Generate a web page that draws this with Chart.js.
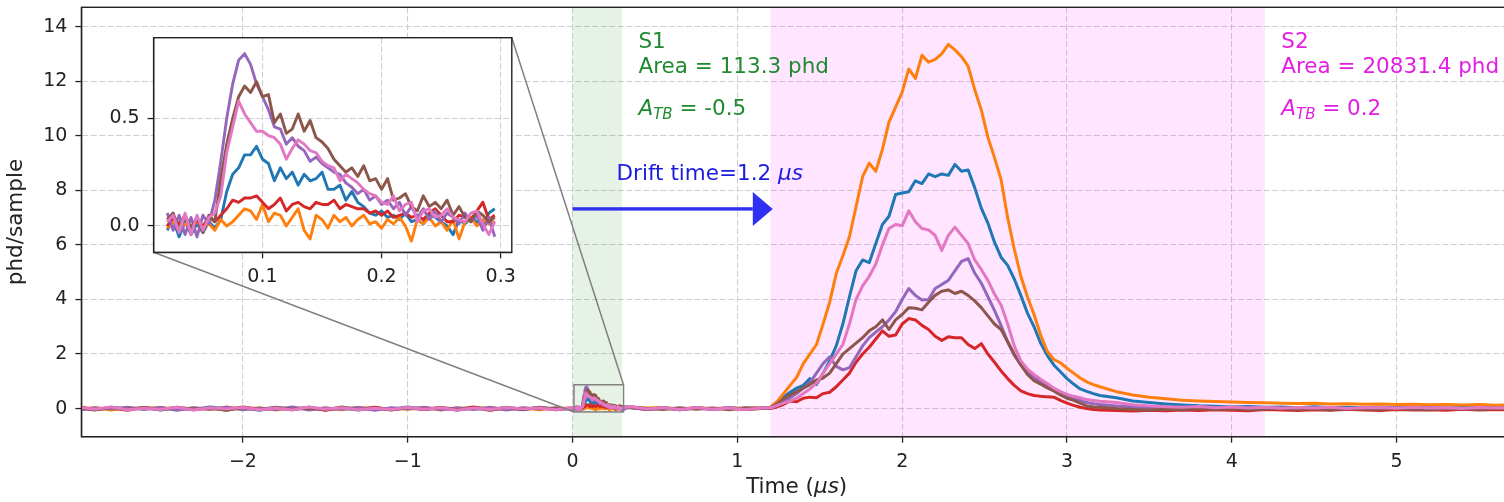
<!DOCTYPE html>
<html><head><meta charset="utf-8">
<script src="https://cdn.jsdelivr.net/npm/chart.js@4/dist/chart.umd.min.js"></script>
<style>
html,body{margin:0;padding:0;background:#fff;overflow:hidden;}
#wrap{position:relative;width:1504px;height:502px;overflow:hidden;}
#main{position:absolute;left:0;top:0;}
#inset{position:absolute;left:80px;top:28px;}
</style></head><body>
<div id="wrap"><canvas id="main" width="1520" height="502"></canvas><canvas id="inset" width="450" height="262"></canvas></div>
<script>
// ---------- DATA ----------
const xTicks = [-2,-1,0,1,2,3,4,5];
const yTicks = [0,2,4,6,8,10,12,14];
const insetXTicks = [0.1,0.2,0.3];
const insetYTicks = [0.0,0.5];

const tPre = [-2.98,-2.9,-2.8,-2.7,-2.6,-2.5,-2.4,-2.3,-2.2,-2.1,-2.0,-1.9,-1.8,-1.7,-1.6,-1.5,-1.4,-1.3,-1.2,-1.1,-1.0,-0.9,-0.8,-0.7,-0.6,-0.5,-0.4,-0.3,-0.2,-0.1,0.0];
const tS1 = [0.020,0.025,0.030,0.035,0.040,0.045,0.050,0.055,0.060,0.065,0.070,0.075,0.080,0.085,0.090,0.095,0.100,0.105,0.110,0.115,0.120,0.125,0.130,0.135,0.140,0.145,0.150,0.155,0.160,0.165,0.170,0.175,0.180,0.185,0.190,0.195,0.200,0.205,0.210,0.215,0.220,0.225,0.230,0.235,0.240,0.245,0.250,0.255,0.260,0.265,0.270,0.275,0.280,0.285,0.290,0.295];
const tMid = [0.35,0.45,0.55,0.65,0.75,0.85,0.95,1.05,1.15];
const tS2 = [1.20,1.24,1.28,1.32,1.36,1.40,1.44,1.48,1.52,1.56,1.60,1.64,1.68,1.72,1.76,1.80,1.84,1.88,1.92,1.96,2.00,2.04,2.08,2.12,2.16,2.20,2.24,2.28,2.32,2.36,2.40,2.44,2.48,2.52,2.56,2.60,2.64,2.68,2.72,2.76,2.80,2.84,2.88,2.92,2.96,3.00,3.04,3.08,3.12,3.16,3.20];
const tTail = [3.3,3.4,3.5,3.6,3.7,3.8,3.9,4.0,4.1,4.2,4.3,4.4,4.5,4.6,4.7,4.8,4.9,5.0,5.1,5.2,5.3,5.4,5.5,5.6,5.7];

// blue
const bluePre = [0.03,-0.04,0.05,-0.02,0.04,-0.05,0.02,-0.03,0.06,-0.01,0.03,-0.06,0.04,-0.02,0.05,-0.04,0.01,-0.05,0.03,-0.02,0.06,-0.03,0.02,-0.05,0.04,-0.01,0.03,-0.04,0.05,-0.02,0.01];
const blueS1 = [-0.02,0.03,-0.05,0.02,-0.04,0.01,-0.03,0.02,-0.01,0.03,0.16,0.24,0.27,0.33,0.33,0.37,0.31,0.29,0.21,0.27,0.22,0.25,0.19,0.24,0.21,0.22,0.25,0.17,0.17,0.19,0.12,0.16,0.11,0.09,0.06,0.05,0.07,0.04,0.05,0.03,0.06,0.02,0.03,0.01,0.05,0.04,0.02,0.0,-0.04,0.03,0.01,0.04,0.02,0.0,0.06,0.08];
const blueMid = [0.03,-0.02,0.04,-0.03,0.02,-0.01,0.03,-0.02,0.01];
const blueS2 = [0.02,0.18,0.42,0.6,0.75,0.85,1.1,0.88,1.3,1.75,2.3,3.1,4.1,5.05,5.45,5.35,6.05,6.75,7.05,7.85,7.9,7.95,8.35,8.25,8.6,8.5,8.6,8.55,8.95,8.7,8.75,8.1,7.35,6.8,6.1,5.55,5.25,4.75,4.15,3.5,3.0,2.4,1.95,1.6,1.35,1.1,0.9,0.72,0.63,0.55,0.48];
const blueTail = [0.4,0.28,0.22,0.17,0.13,0.1,0.09,0.06,0.08,0.05,0.06,0.03,0.07,0.04,0.05,0.02,0.06,0.03,0.04,0.05,0.02,0.04,0.03,0.05,0.03];
// orange
const orangePre = [-0.02,0.04,-0.05,0.03,-0.01,0.05,-0.04,0.02,-0.03,0.06,-0.02,0.03,-0.05,0.04,-0.01,0.02,-0.04,0.05,-0.03,0.01,-0.02,0.04,-0.05,0.03,-0.01,0.05,-0.03,0.02,-0.04,0.03,0.0];
const orangeS1 = [-0.01,0.02,-0.02,0.01,0.0,0.02,-0.01,0.01,-0.02,0.03,0.0,0.02,0.05,0.08,0.07,0.03,0.10,0.02,0.06,0.05,0.0,0.04,0.08,-0.02,-0.06,0.05,0.03,-0.01,0.05,0.02,0.04,0.0,0.03,0.05,0.01,0.02,-0.01,0.03,0.01,0.04,0.0,-0.07,0.03,0.01,0.04,0.0,0.02,-0.02,0.03,-0.06,0.02,0.04,0.0,0.03,0.01,0.02];
const orangeMid = [0.05,0.02,0.04,-0.01,0.03,0.0,0.02,0.01,0.03];
const orangeS2 = [0.05,0.25,0.55,0.85,1.15,1.65,2.0,2.35,3.1,3.9,4.95,5.6,6.3,7.4,8.5,9.0,8.7,9.5,10.5,11.05,11.6,12.45,12.1,12.95,12.7,12.8,13.0,13.35,13.15,12.9,12.55,11.7,10.95,9.95,9.2,8.4,7.0,5.85,4.85,4.1,3.45,2.7,2.1,1.8,1.68,1.48,1.3,1.12,0.98,0.88,0.8];
const orangeTail = [0.62,0.5,0.42,0.36,0.31,0.28,0.26,0.24,0.22,0.21,0.2,0.19,0.2,0.17,0.18,0.16,0.17,0.15,0.16,0.14,0.15,0.13,0.15,0.12,0.14];
// red
const redPre = [0.05,-0.03,0.02,-0.06,0.04,-0.01,0.03,-0.04,0.02,-0.05,0.06,-0.02,0.01,-0.03,0.04,-0.06,0.03,-0.01,0.05,-0.04,0.02,-0.03,0.04,-0.02,0.06,-0.05,0.01,-0.02,0.03,-0.04,0.02];
const redS1 = [0.0,0.04,0.01,0.05,-0.02,0.03,0.0,0.04,0.02,0.05,0.08,0.12,0.11,0.13,0.13,0.14,0.11,0.08,0.10,0.13,0.07,0.10,0.11,0.09,0.08,0.11,0.10,0.10,0.12,0.08,0.10,0.09,0.08,0.08,0.06,0.07,0.05,0.07,0.04,0.05,0.06,0.04,0.05,0.03,0.06,0.08,0.05,0.02,0.02,0.05,0.04,0.03,0.07,0.11,0.03,0.05];
const redMid = [0.04,-0.03,0.02,-0.04,0.03,-0.02,0.01,-0.03,0.0];
const redS2 = [0.0,0.06,0.15,0.28,0.25,0.38,0.42,0.4,0.55,0.6,0.8,1.05,1.3,1.7,2.0,2.25,2.55,2.85,2.65,2.7,3.1,3.3,3.25,3.05,2.9,2.65,2.5,2.63,2.6,2.6,2.35,2.2,2.38,2.0,1.7,1.38,1.1,0.85,0.65,0.55,0.48,0.45,0.43,0.42,0.3,0.2,0.12,0.05,0.0,-0.03,-0.05];
const redTail = [-0.07,-0.09,-0.06,-0.08,-0.05,-0.07,-0.04,-0.06,-0.08,-0.03,-0.05,-0.07,-0.04,-0.06,-0.02,-0.05,-0.07,-0.03,-0.05,-0.04,-0.06,-0.02,-0.05,-0.03,-0.04];
// purple
const purplePre = [-0.04,0.02,-0.01,0.05,-0.03,0.04,-0.06,0.03,-0.02,0.05,-0.04,0.01,-0.03,0.06,-0.05,0.02,-0.02,0.04,-0.06,0.03,-0.01,0.05,-0.04,0.02,-0.03,0.04,-0.05,0.03,-0.01,0.02,-0.03];
const purpleS1 = [0.06,-0.02,0.05,-0.04,0.04,-0.05,0.05,0.01,0.12,0.30,0.50,0.66,0.77,0.80,0.75,0.66,0.60,0.54,0.46,0.45,0.38,0.41,0.37,0.35,0.30,0.32,0.29,0.27,0.25,0.24,0.20,0.18,0.15,0.17,0.12,0.14,0.10,0.12,0.08,0.11,0.05,0.09,0.04,0.08,0.03,0.07,0.02,0.06,0.04,0.01,0.06,0.02,0.05,-0.02,0.04,-0.05];
const purpleMid = [0.06,-0.02,0.03,-0.04,0.02,-0.03,0.04,-0.01,0.02];
const purpleS2 = [0.02,0.1,0.25,0.4,0.55,0.75,0.95,1.3,1.65,1.9,1.55,1.42,1.5,1.9,2.3,2.6,2.8,3.0,3.25,3.55,4.0,4.4,4.15,3.98,4.0,4.4,4.55,4.7,5.05,5.4,5.5,4.97,4.6,4.1,3.6,3.05,2.45,1.95,1.6,1.35,1.15,0.97,0.82,0.67,0.55,0.45,0.38,0.3,0.22,0.18,0.15];
const purpleTail = [0.1,0.06,0.04,0.02,0.05,0.01,0.03,-0.01,0.04,0.0,0.02,-0.02,0.03,0.01,-0.01,0.03,0.0,0.02,-0.02,0.04,0.01,-0.01,0.02,0.0,0.01];
// brown
const brownPre = [0.01,-0.05,0.04,-0.02,0.03,-0.04,0.05,-0.01,0.02,-0.06,0.03,-0.03,0.05,-0.02,0.01,-0.04,0.06,-0.03,0.02,-0.05,0.04,-0.01,0.03,-0.04,0.02,-0.06,0.05,-0.02,0.04,-0.01,0.02];
const brownS1 = [0.03,0.06,-0.02,0.05,-0.01,0.04,-0.03,0.05,0.02,0.22,0.38,0.50,0.60,0.65,0.62,0.67,0.60,0.61,0.48,0.52,0.43,0.45,0.52,0.44,0.49,0.41,0.39,0.36,0.31,0.28,0.25,0.27,0.23,0.28,0.21,0.22,0.17,0.22,0.12,0.13,0.15,0.09,0.07,0.14,0.09,0.11,0.08,0.12,0.05,0.09,0.04,0.02,0.07,0.05,0.02,0.04];
const brownMid = [0.07,0.0,-0.03,0.03,-0.02,0.02,-0.04,0.03,0.01];
const brownS2 = [0.03,0.18,0.35,0.5,0.62,0.75,0.88,1.05,1.12,1.3,1.65,2.0,2.2,2.4,2.6,2.85,3.0,3.25,2.9,3.25,3.45,3.7,3.68,3.62,3.9,4.15,4.3,4.35,4.22,4.3,4.15,3.95,3.7,3.4,3.1,2.9,2.45,2.0,1.6,1.25,1.02,0.9,0.76,0.65,0.5,0.38,0.3,0.2,0.1,0.06,0.05];
const brownTail = [0.0,-0.03,-0.05,-0.02,-0.04,-0.01,-0.03,0.0,-0.04,-0.02,0.01,-0.03,-0.01,-0.04,0.0,-0.02,-0.03,0.01,-0.02,-0.04,0.0,-0.01,-0.03,0.0,-0.02];
// pink
const pinkPre = [0.04,-0.02,0.06,-0.04,0.01,-0.03,0.05,-0.05,0.03,-0.01,0.04,-0.04,0.02,-0.05,0.06,-0.02,0.03,-0.04,0.01,-0.03,0.05,-0.02,0.03,-0.06,0.02,-0.03,0.04,-0.01,0.02,-0.04,0.03];
const pinkS1 = [0.02,0.05,-0.03,0.06,-0.04,0.05,-0.02,0.04,0.06,0.14,0.34,0.46,0.58,0.52,0.48,0.44,0.44,0.42,0.41,0.38,0.31,0.36,0.40,0.38,0.35,0.34,0.30,0.28,0.27,0.21,0.24,0.22,0.20,0.17,0.15,0.14,0.11,0.10,0.14,0.07,0.10,0.11,0.02,0.07,0.08,0.04,0.05,0.08,0.04,0.03,0.02,0.06,0.07,0.01,-0.04,0.02];
const pinkMid = [0.08,-0.01,0.03,-0.03,0.04,-0.02,0.02,-0.03,0.02];
const pinkS2 = [0.03,0.12,0.2,0.28,0.38,0.55,0.72,0.93,1.3,1.65,2.0,2.35,3.1,4.0,4.5,4.85,5.3,6.0,6.6,6.75,6.7,7.25,6.85,6.6,6.55,6.35,5.8,6.35,6.65,6.35,6.05,5.45,5.1,4.7,4.2,3.8,3.1,2.3,1.75,1.45,1.25,1.08,0.92,0.75,0.62,0.52,0.45,0.4,0.33,0.3,0.27];
const pinkTail = [0.22,0.14,0.1,0.07,0.05,0.08,0.03,0.06,0.02,0.05,0.01,0.04,0.02,0.05,0.0,0.03,0.04,0.01,0.05,0.02,0.03,0.0,0.04,0.02,0.03];

// ---------- STYLE / BUILD ----------
const FONT = "'DejaVu Sans'";
Chart.defaults.font.family = FONT;
Chart.defaults.color = '#222';

const SERIES = [
  {color:'#1f77b4', order:5, pre:bluePre,   s1:blueS1,   mid:blueMid,   s2:blueS2,   tail:blueTail},
  {color:'#ff7f0e', order:4, pre:orangePre, s1:orangeS1, mid:orangeMid, s2:orangeS2, tail:orangeTail},
  {color:'#d62728', order:3, pre:redPre,    s1:redS1,    mid:redMid,    s2:redS2,    tail:redTail},
  {color:'#9467bd', order:2, pre:purplePre, s1:purpleS1, mid:purpleMid, s2:purpleS2, tail:purpleTail},
  {color:'#8c564b', order:1, pre:brownPre,  s1:brownS1,  mid:brownMid,  s2:brownS2,  tail:brownTail},
  {color:'#e377c2', order:0, pre:pinkPre,   s1:pinkS1,   mid:pinkMid,   s2:pinkS2,   tail:pinkTail}
];
function pts(ts, vs){ return ts.map((t,i)=>({x:t, y:vs[i]})); }

const INSET_LIM = {x0:0.0086, x1:0.3093, y0:-0.122, y1:0.874};
const MAIN_LIM = {x0:-2.98, x1:5.70, y0:-1.03, y1:14.71};
const SPANS = [
  {from:0.0, to:0.3, color:'rgba(0,128,0,0.1)'},
  {from:1.2, to:4.2, color:'rgba(255,0,255,0.1)'}
];

function gridOpts(){ return {color:'#cfcfcf', lineWidth:1.1, drawTicks:true, tickLength:6, tickColor:'#222', tickWidth:1.3, tickBorderDash:[]}; }
function borderOpts(){ return {display:true, color:'#222', width:1.3, dash:[6,2.5]}; }
function noPad(s){ s.paddingTop = 0; s.paddingBottom = 0; s.paddingLeft = 0; s.paddingRight = 0; }

function spines(ctx, a){
  ctx.save(); ctx.strokeStyle = '#222'; ctx.lineWidth = 1.4; ctx.setLineDash([]);
  ctx.strokeRect(a.left, a.top, a.right - a.left, a.bottom - a.top); ctx.restore();
}
function runs(ctx, x, y, parts, color){
  let cx = x; ctx.fillStyle = color; ctx.textBaseline = 'alphabetic'; ctx.textAlign = 'left';
  for (const p of parts){ ctx.font = p.font; ctx.fillText(p.t, cx, y + (p.dy||0)); cx += ctx.measureText(p.t).width; }
}
function runsWidth(ctx, parts){ let w=0; for (const p of parts){ ctx.font = p.font; w += ctx.measureText(p.t).width; } return w; }

const TXT = "21.5px " + FONT, ITXT = "italic 21.5px " + FONT, SUB = "italic 15px " + FONT;

// ---------- INSET ----------
const insetDecor = {
  id:'insetDecor',
  beforeDraw(c){ const a = c.chartArea, ctx = c.ctx; ctx.save(); ctx.fillStyle = '#fff'; ctx.fillRect(a.left, a.top, a.right-a.left, a.bottom-a.top); ctx.restore(); },
  afterDraw(c){ spines(c.ctx, c.chartArea); }
};
const insetChart = new Chart(document.getElementById('inset'), {
  type:'line',
  data:{datasets: SERIES.map(s => ({data: pts(tS1, s.s1), borderColor: s.color, order: s.order, borderWidth:2.9, pointRadius:0, fill:false, tension:0, borderJoinStyle:'round'}))},
  options:{
    animation:false, responsive:false, events:[],
    layout:{padding:{top:9.7, right:18.2, left:0, bottom:0}},
    plugins:{legend:{display:false}, tooltip:{enabled:false}},
    scales:{
      x:{type:'linear', min:INSET_LIM.x0, max:INSET_LIM.x1,
         afterFit(s){ s.height = 37.7; noPad(s); },
         afterBuildTicks(s){ s.ticks = insetXTicks.map(v=>({value:v})); },
         ticks:{callback:v=>Number(v).toFixed(1), font:{size:19}, color:'#222', padding:7, autoSkip:false, maxRotation:0},
         grid:gridOpts(), border:borderOpts()},
      y:{type:'linear', min:INSET_LIM.y0, max:INSET_LIM.y1,
         afterFit(s){ s.width = 73.6; noPad(s); },
         afterBuildTicks(s){ s.ticks = insetYTicks.map(v=>({value:v})); },
         ticks:{callback:v=>Number(v).toFixed(1), font:{size:19}, color:'#222', padding:8, autoSkip:false},
         grid:gridOpts(), border:borderOpts()}
    }
  },
  plugins:[insetDecor]
});

// ---------- MAIN ----------
const mainDecor = {
  id:'mainDecor',
  beforeDatasetsDraw(c){
    const {ctx, chartArea:a, scales:{x}} = c;
    ctx.save(); ctx.beginPath(); ctx.rect(a.left, a.top, a.right-a.left, a.bottom-a.top); ctx.clip();
    SPANS.forEach(sp => { const x0 = x.getPixelForValue(sp.from), x1 = x.getPixelForValue(sp.to); ctx.fillStyle = sp.color; ctx.fillRect(x0, a.top, x1-x0, a.bottom-a.top); });
    ctx.restore();
  },
  afterDatasetsDraw(c){
    const {ctx, chartArea:a, scales:{x, y}} = c;
    spines(ctx, a);
    const rx0 = x.getPixelForValue(INSET_LIM.x0), rx1 = x.getPixelForValue(INSET_LIM.x1);
    const ry0 = y.getPixelForValue(INSET_LIM.y0), ry1 = y.getPixelForValue(INSET_LIM.y1);
    ctx.save(); ctx.strokeStyle = '#808080'; ctx.lineWidth = 1.5;
    ctx.strokeRect(rx0, ry1, rx1-rx0, ry0-ry1);
    const ic = document.getElementById('inset'); const ia = insetChart.chartArea;
    const ox = ic.offsetLeft, oy = ic.offsetTop;
    ctx.beginPath();
    ctx.moveTo(ia.left+ox, ia.bottom+oy); ctx.lineTo(rx0, ry0);
    ctx.moveTo(ia.right+ox, ia.top+oy); ctx.lineTo(rx1, ry1);
    ctx.stroke(); ctx.restore();
    const green = '#1f8a30', mag = '#e31ee3';
    let tx = x.getPixelForValue(0.4);
    runs(ctx, tx, y.getPixelForValue(13.2), [{t:'S1', font:TXT}], green);
    runs(ctx, tx, y.getPixelForValue(12.31), [{t:'Area = 113.3 phd', font:TXT}], green);
    runs(ctx, tx, y.getPixelForValue(10.76), [{t:'A', font:ITXT},{t:'TB', font:SUB, dy:4},{t:' = -0.5', font:TXT}], green);
    tx = x.getPixelForValue(4.3);
    runs(ctx, tx, y.getPixelForValue(13.2), [{t:'S2', font:TXT}], mag);
    runs(ctx, tx, y.getPixelForValue(12.31), [{t:'Area = 20831.4 phd', font:TXT}], mag);
    runs(ctx, tx, y.getPixelForValue(10.76), [{t:'A', font:ITXT},{t:'TB', font:SUB, dy:4},{t:' = 0.2', font:TXT}], mag);
    runs(ctx, x.getPixelForValue(0.267), y.getPixelForValue(8.38), [{t:'Drift time=1.2 ', font:TXT},{t:'\u03bcs', font:ITXT}], '#1c1cdc');
    const ay = y.getPixelForValue(7.32), ax0 = x.getPixelForValue(0.0), axt = x.getPixelForValue(1.215);
    ctx.save(); ctx.fillStyle = '#3030f2';
    ctx.fillRect(ax0, ay-1.7, (axt-20)-ax0, 3.4);
    ctx.beginPath(); ctx.moveTo(axt-20, ay-17); ctx.lineTo(axt, ay); ctx.lineTo(axt-20, ay+17); ctx.closePath(); ctx.fill();
    ctx.restore();
  },
  afterDraw(c){
    const {ctx, chartArea:a} = c;
    const parts = [{t:'Time (', font:TXT},{t:'\u03bcs', font:ITXT},{t:')', font:TXT}];
    const w = runsWidth(ctx, parts);
    runs(ctx, (a.left + a.right)/2 - w/2, 493, parts, '#222');
    ctx.save(); ctx.translate(22, (a.top + a.bottom)/2); ctx.rotate(-Math.PI/2);
    ctx.font = TXT; ctx.fillStyle = '#222'; ctx.textAlign = 'center'; ctx.textBaseline = 'alphabetic';
    ctx.fillText('phd/sample', 0, 0); ctx.restore();
  }
};

new Chart(document.getElementById('main'), {
  type:'line',
  data:{datasets: SERIES.map(s => ({
    data: pts(tPre, s.pre).concat(pts(tS1, s.s1), pts(tMid, s.mid), pts(tS2, s.s2), pts(tTail, s.tail)),
    borderColor: s.color, order: s.order, borderWidth:3, pointRadius:0, fill:false, tension:0, borderJoinStyle:'round'}))},
  options:{
    animation:false, responsive:false, events:[],
    layout:{padding:{top:7.3, right:8, left:0, bottom:0}},
    plugins:{legend:{display:false}, tooltip:{enabled:false}},
    scales:{
      x:{type:'linear', min:MAIN_LIM.x0, max:MAIN_LIM.x1,
         afterFit(s){ s.height = 65.3; noPad(s); },
         afterBuildTicks(s){ s.ticks = xTicks.map(v=>({value:v})); },
         ticks:{callback:v=> v < 0 ? '\u2212' + Math.abs(v) : String(v), font:{size:19}, color:'#222', padding:8, autoSkip:false, maxRotation:0},
         grid:gridOpts(), border:borderOpts()},
      y:{type:'linear', min:MAIN_LIM.y0, max:MAIN_LIM.y1,
         afterFit(s){ s.width = 81.4; noPad(s); },
         afterBuildTicks(s){ s.ticks = yTicks.map(v=>({value:v})); },
         ticks:{callback:v=>String(v), font:{size:19}, color:'#222', padding:8, autoSkip:false},
         grid:gridOpts(), border:borderOpts()}
    }
  },
  plugins:[mainDecor]
});
</script>
</body></html>
